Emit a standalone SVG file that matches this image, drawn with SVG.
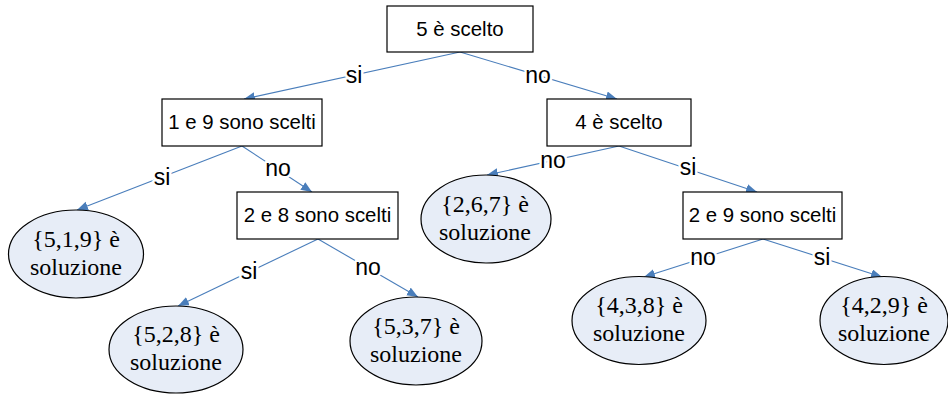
<svg xmlns="http://www.w3.org/2000/svg" width="948" height="394" viewBox="0 0 948 394">
<style>
.box{fill:#fff;stroke:#000;stroke-width:1.2}
.ell{fill:#e7edf7;stroke:#000;stroke-width:1.2}
.bt{font-family:"Liberation Sans",Arial,sans-serif;font-size:20.4px;fill:#000;text-anchor:middle}
.et{font-family:'Liberation Serif',serif;font-size:24px;fill:#000;text-anchor:middle}
.edge{fill:none;stroke:#4a7ebb;stroke-width:1.1}
.lbl{font-family:"Liberation Sans",Arial,sans-serif;font-size:23px;fill:#000;text-anchor:middle;stroke:#fff;stroke-width:5;paint-order:stroke;stroke-linejoin:round}
</style>
<defs>
<marker id="arr" markerUnits="userSpaceOnUse" markerWidth="12" markerHeight="10" refX="11" refY="4.5" orient="auto">
<path d="M0,0 L11,4.5 L0,9 z" fill="#4a7ebb"/>
</marker>
</defs>
<g id="connectors">
<line class="edge" x1="460" y1="52" x2="244" y2="99" marker-end="url(#arr)"/>
<line class="edge" x1="460" y1="52" x2="617" y2="99" marker-end="url(#arr)"/>
<line class="edge" x1="242" y1="146" x2="77" y2="210" marker-end="url(#arr)"/>
<line class="edge" x1="242" y1="146" x2="312" y2="192" marker-end="url(#arr)"/>
<line class="edge" x1="318" y1="239" x2="178" y2="306" marker-end="url(#arr)"/>
<line class="edge" x1="318" y1="239" x2="418" y2="297" marker-end="url(#arr)"/>
<line class="edge" x1="619" y1="146" x2="487" y2="175" marker-end="url(#arr)"/>
<line class="edge" x1="619" y1="146" x2="757" y2="192" marker-end="url(#arr)"/>
<line class="edge" x1="763" y1="239" x2="644" y2="277" marker-end="url(#arr)"/>
<line class="edge" x1="763" y1="239" x2="882" y2="277" marker-end="url(#arr)"/>
<text class="lbl" x="354" y="83">si</text>
<text class="lbl" x="538" y="83">no</text>
<text class="lbl" x="162" y="185">si</text>
<text class="lbl" x="278" y="176">no</text>
<text class="lbl" x="249" y="279">si</text>
<text class="lbl" x="368" y="275">no</text>
<text class="lbl" x="553" y="168">no</text>
<text class="lbl" x="688" y="175">si</text>
<text class="lbl" x="703" y="265">no</text>
<text class="lbl" x="822" y="265">si</text>
</g>
<g id="n_root">
<rect class="box" x="387" y="6" width="146" height="46"/>
<text class="bt" x="460" y="36">5 è scelto</text>
</g>
<g id="n_1e9">
<rect class="box" x="162" y="99" width="160" height="47"/>
<text class="bt" x="242" y="129">1 e 9 sono scelti</text>
</g>
<g id="n_4">
<rect class="box" x="547" y="99" width="144" height="47"/>
<text class="bt" x="619" y="129">4 è scelto</text>
</g>
<g id="n_2e8">
<rect class="box" x="237" y="192" width="161" height="47"/>
<text class="bt" x="317.5" y="222">2 e 8 sono scelti</text>
</g>
<g id="n_2e9">
<rect class="box" x="683" y="192" width="159" height="47"/>
<text class="bt" x="762.5" y="222">2 e 9 sono scelti</text>
</g>
<g id="s_519">
<ellipse class="ell" cx="76" cy="254" rx="67.5" ry="44"/>
<text class="et" x="76" y="247">{5,1,9} è</text>
<text class="et" x="76" y="275">soluzione</text>
</g>
<g id="s_528">
<ellipse class="ell" cx="176" cy="349.5" rx="67" ry="43.5"/>
<text class="et" x="176" y="342">{5,2,8} è</text>
<text class="et" x="176" y="370">soluzione</text>
</g>
<g id="s_537">
<ellipse class="ell" cx="416" cy="341" rx="66" ry="44"/>
<text class="et" x="416" y="334">{5,3,7} è</text>
<text class="et" x="416" y="362">soluzione</text>
</g>
<g id="s_267">
<ellipse class="ell" cx="486" cy="219" rx="65" ry="44"/>
<text class="et" x="485" y="212">{2,6,7} è</text>
<text class="et" x="485" y="240">soluzione</text>
</g>
<g id="s_438">
<ellipse class="ell" cx="639" cy="320.5" rx="67" ry="44"/>
<text class="et" x="639" y="313">{4,3,8} è</text>
<text class="et" x="639" y="341">soluzione</text>
</g>
<g id="s_429">
<ellipse class="ell" cx="884" cy="320.5" rx="64" ry="44"/>
<text class="et" x="884" y="313">{4,2,9} è</text>
<text class="et" x="884" y="341">soluzione</text>
</g>
</svg>
